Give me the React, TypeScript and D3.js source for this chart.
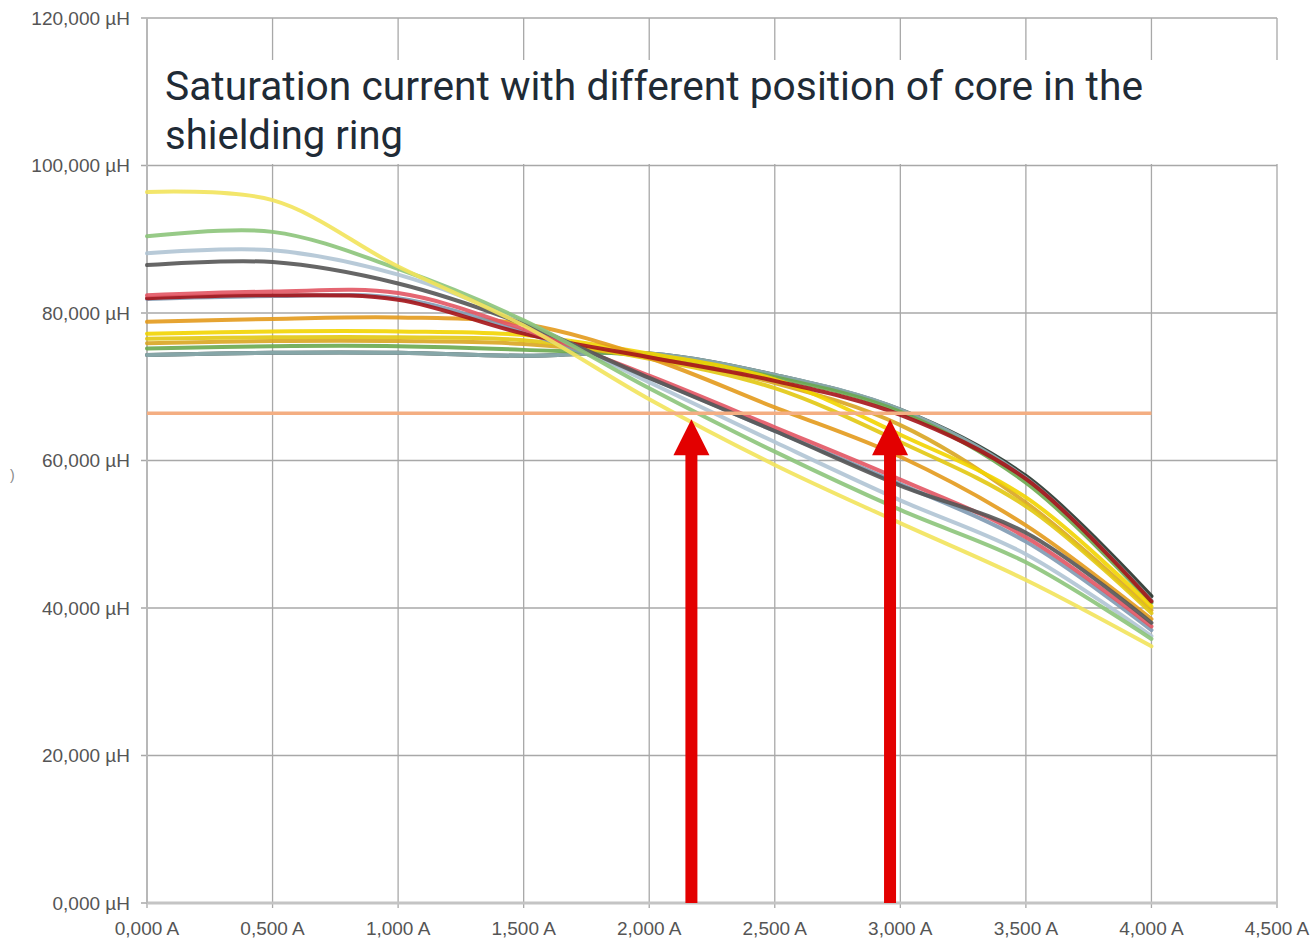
import React, { useEffect, useRef } from 'react';
import * as d3 from 'd3';

const width = 1315;
const height = 940;
const margin = { top: 18, right: 38, bottom: 37, left: 147 };

// measurement points (A)
const currents = [0, 0.5, 1, 1.5, 2, 2.5, 3, 3.5, 4];

// inductance per core position (mH, shown as "µH" with comma decimals)
const black = [74.3, 74.6, 74.6, 74.2, 74.5, 71.6, 66.9, 57.9, 41.6];
const tealGrey = [74.3, 74.6, 74.6, 74.2, 74.5, 71.6, 66.9, 57.6, 41.0];
const green2 = [75.2, 75.5, 75.5, 75.0, 74.2, 71.3, 66.6, 57.0, 40.7];
const gold = [75.9, 76.2, 76.2, 75.8, 74.0, 70.5, 64.8, 54.3, 39.7];
const yellow2 = [76.5, 76.7, 76.7, 76.3, 73.8, 69.8, 62.5, 53.8, 39.3];
const yellowBright = [77.2, 77.5, 77.5, 77.0, 74.5, 71.0, 63.5, 55.0, 40.2];
const orange = [78.8, 79.2, 79.4, 78.5, 73.9, 67.2, 60.5, 51.2, 38.5];
const steelBlue = [81.9, 82.3, 82.0, 77.4, 71.2, 64.0, 56.8, 49.0, 37.0];
const red = [82.4, 82.9, 82.7, 77.8, 71.5, 64.5, 57.4, 49.6, 37.5];
const darkRed = [82.0, 82.4, 81.8, 77.2, 74.0, 70.8, 66.2, 57.5, 40.9];
const blueGreyLight = [88.1, 88.5, 85.2, 78.8, 70.6, 62.5, 54.6, 47.3, 36.2];
const darkGrey = [86.5, 86.9, 84.0, 78.5, 71.2, 64.0, 56.6, 50.2, 38.0];
const green = [90.4, 91.0, 86.0, 79.0, 69.8, 61.2, 53.3, 46.2, 35.8];
const yellowLight = [96.4, 95.3, 86.3, 78.3, 68.3, 59.4, 51.5, 43.8, 34.8];

const series = [
  { name: 'black', color: '#26332b', values: black },
  { name: 'tealGrey', color: '#8fb0b4', values: tealGrey },
  { name: 'green2', color: '#6aa84f', values: green2 },
  { name: 'gold', color: '#d9a521', values: gold },
  { name: 'yellow2', color: '#e2c812', values: yellow2 },
  { name: 'yellowBright', color: '#f2d400', values: yellowBright },
  { name: 'orange', color: '#e39a1c', values: orange },
  { name: 'steelBlue', color: '#7f9ab2', values: steelBlue },
  { name: 'darkRed', color: '#a5141a', values: darkRed },
  { name: 'red', color: '#e25563', values: red },
  { name: 'blueGreyLight', color: '#b0c4d4', values: blueGreyLight },
  { name: 'darkGrey', color: '#555555', values: darkGrey },
  { name: 'green', color: '#8cc47a', values: green },
  { name: 'yellowLight', color: '#f2e35b', values: yellowLight },
];

const xTicks = [0, 0.5, 1, 1.5, 2, 2.5, 3, 3.5, 4, 4.5];
const yTicks = [0, 20, 40, 60, 80, 100, 120];

// saturation limit and the two marked currents
const limit = 66.4;
const limitRange = [0, 4];
const arrowCurrents = [2.168, 2.959];
const arrowTip = 65.6;

const titleLines = [
  'Saturation current with different position of core in the',
  'shielding ring',
];

const fmt = (v: number) => d3.format('.3f')(v).replace('.', ',');

export default function App() {
  const ref = useRef<SVGSVGElement>(null);

  useEffect(() => {
    if (!ref.current) return;
    const root = d3.select(ref.current);
    root.selectAll('*').remove();

    const x = d3.scaleLinear().domain([0, 4.5]).range([margin.left, width - margin.right]);
    const y = d3.scaleLinear().domain([0, 120]).range([height - margin.bottom, margin.top]);

    const svg = root.append('g');

    // grid
    svg
      .selectAll('line.vgrid')
      .data(xTicks)
      .enter()
      .append('line')
      .attr('x1', (d) => x(d))
      .attr('x2', (d) => x(d))
      .attr('y1', y(120))
      .attr('y2', y(0) + 5)
      .attr('stroke', '#a8a8a8')
      .attr('stroke-width', 1.3);

    svg
      .selectAll('line.hgrid')
      .data(yTicks)
      .enter()
      .append('line')
      .attr('x1', x(0) - 6)
      .attr('x2', x(4.5))
      .attr('y1', (d) => y(d))
      .attr('y2', (d) => y(d))
      .attr('stroke', '#a8a8a8')
      .attr('stroke-width', 1.3);

    // axis lines
    svg
      .append('line')
      .attr('x1', x(0))
      .attr('x2', x(4.5))
      .attr('y1', y(0))
      .attr('y2', y(0))
      .attr('stroke', '#c4c4c4')
      .attr('stroke-width', 3);
    svg
      .append('line')
      .attr('x1', x(0))
      .attr('x2', x(0))
      .attr('y1', y(0))
      .attr('y2', y(120))
      .attr('stroke', '#b8b8b8')
      .attr('stroke-width', 2);

    // tick labels
    svg
      .selectAll('text.ylab')
      .data(yTicks)
      .enter()
      .append('text')
      .attr('x', x(0) - 17)
      .attr('y', (d) => y(d))
      .attr('dy', '0.36em')
      .attr('text-anchor', 'end')
      .style('font-family', '"Liberation Sans", Arial, sans-serif')
      .style('font-size', '19px')
      .attr('fill', '#555')
      .text((d) => `${fmt(d)} µH`);

    svg
      .selectAll('text.xlab')
      .data(xTicks)
      .enter()
      .append('text')
      .attr('x', (d) => x(d))
      .attr('y', y(0) + 32)
      .attr('text-anchor', 'middle')
      .style('font-family', '"Liberation Sans", Arial, sans-serif')
      .style('font-size', '19px')
      .attr('fill', '#555')
      .text((d) => `${fmt(d)} A`);

    svg
      .append('text')
      .attr('x', 10)
      .attr('y', 480)
      .style('font-family', '"Liberation Sans", Arial, sans-serif')
      .style('font-size', '14px')
      .attr('fill', '#888')
      .text(')');

    // curves
    const line = d3
      .line<number>()
      .x((_, i) => x(currents[i]))
      .y((d) => y(d))
      .curve(d3.curveCatmullRom.alpha(0.5));

    svg
      .selectAll('path.series')
      .data(series)
      .enter()
      .append('path')
      .attr('d', (d) => line(d.values))
      .attr('fill', 'none')
      .attr('stroke', (d) => d.color)
      .attr('stroke-width', 4)
      .attr('stroke-opacity', 0.9)
      .attr('stroke-linecap', 'round');

    // saturation limit
    svg
      .append('line')
      .attr('x1', x(limitRange[0]))
      .attr('x2', x(limitRange[1]))
      .attr('y1', y(limit))
      .attr('y2', y(limit))
      .attr('stroke', '#f4ae82')
      .attr('stroke-width', 3.5);

    // red arrows
    const arrows = svg
      .selectAll('g.arrow')
      .data(arrowCurrents)
      .enter()
      .append('g')
      .attr('transform', (d) => `translate(${x(d)}, 0)`);
    arrows
      .append('rect')
      .attr('x', -6)
      .attr('y', y(arrowTip) + 30)
      .attr('width', 12)
      .attr('height', y(0) - y(arrowTip) - 30)
      .attr('fill', '#e30000');
    arrows
      .append('path')
      .attr(
        'd',
        `M0,${y(arrowTip)} L18,${y(arrowTip) + 36} L-18,${y(arrowTip) + 36} Z`
      )
      .attr('fill', '#e30000');

    // title box
    svg
      .append('rect')
      .attr('x', x(0) + 3)
      .attr('y', 60)
      .attr('width', x(4.5) - x(0) + 5)
      .attr('height', 104)
      .attr('fill', '#fff');

    svg
      .selectAll('text.title')
      .data(titleLines)
      .enter()
      .append('text')
      .attr('x', 165)
      .attr('y', (_, i) => 100 + i * 49)
      .attr('textLength', (_, i) => (i === 0 ? 978 : 238))
      .attr('lengthAdjust', 'spacingAndGlyphs')
      .style('font-family', 'Roboto, sans-serif')
      .style('font-size', '40px')
      .attr('fill', '#1f2b36')
      .text((d) => d);
  }, []);

  return (
    <svg
      ref={ref}
      width={width}
      height={height}
      style={{ position: 'absolute', left: 0, top: 0, background: '#fff' }}
    />
  );
}
